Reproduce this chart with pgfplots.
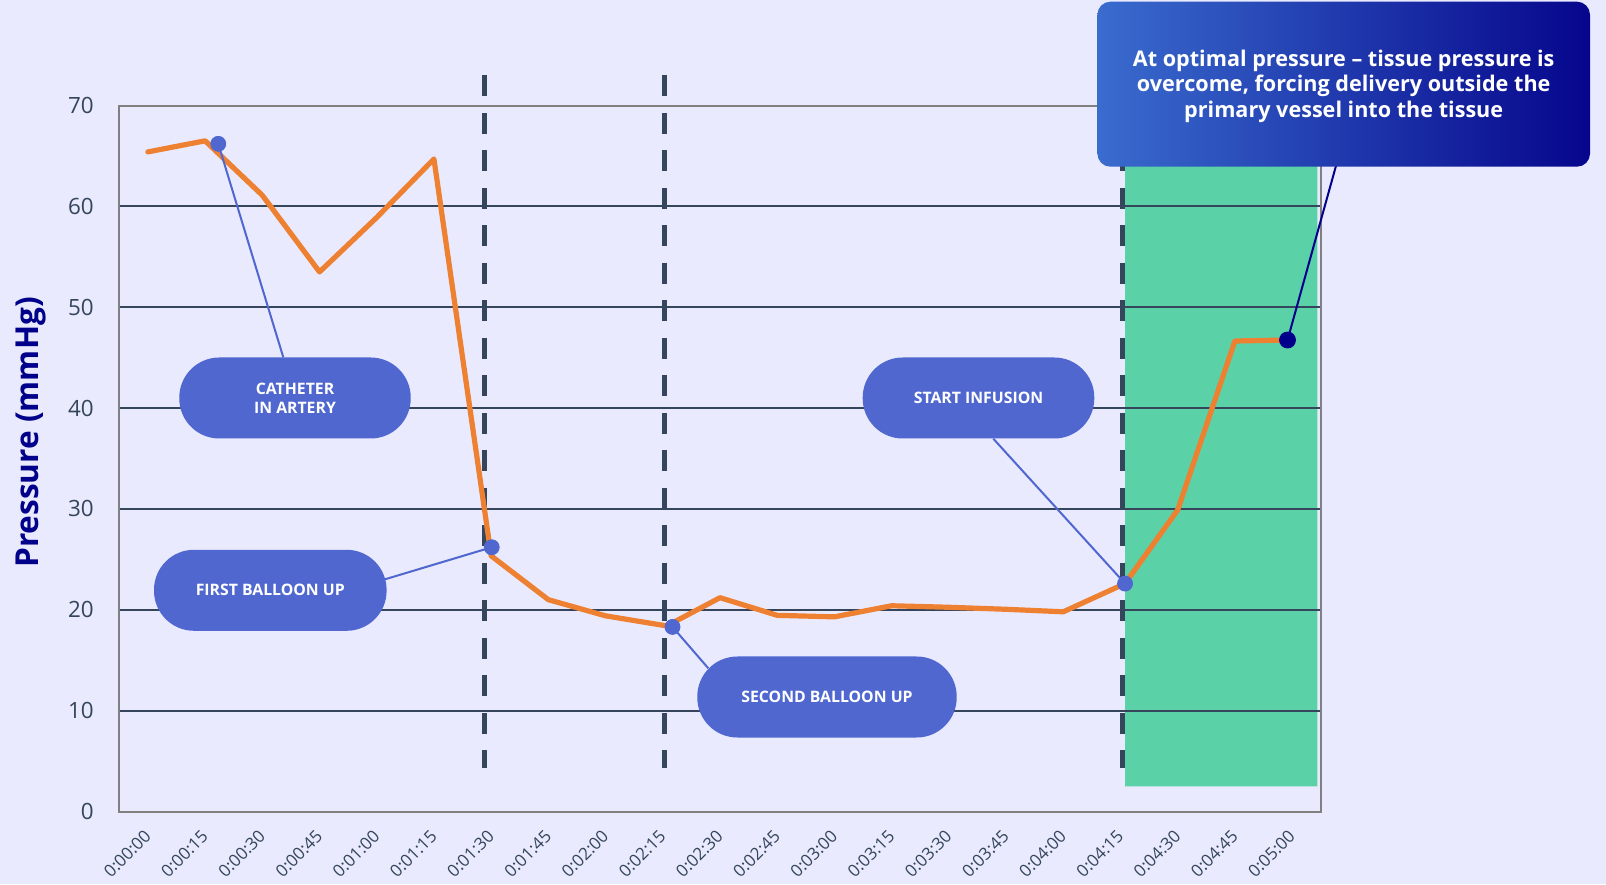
\documentclass[border=0pt]{standalone}
\usepackage{pgfplots}
\pgfplotsset{compat=1.18}
\usepackage{fontspec}
\setmainfont{Open Sans}
\definecolor{bg}{RGB}{233,234,253}
\definecolor{gridc}{RGB}{52,69,92}
\definecolor{axisgray}{RGB}{128,128,128}
\definecolor{tickc}{RGB}{52,69,92}
\definecolor{orangec}{RGB}{238,128,50}
\definecolor{pillc}{RGB}{79,103,207}
\definecolor{navyc}{RGB}{0,0,139}
\definecolor{greenc}{RGB}{91,209,167}
\definecolor{boxL}{RGB}{58,108,206}
\definecolor{boxR}{RGB}{6,6,140}
\pagecolor{bg}
\begin{document}
\begin{tikzpicture}
\begin{axis}[
  set layers=standard,
  at={(0,0)}, anchor=south west,
  scale only axis, width=600.7pt, height=353pt,
  xmin=-0.5, xmax=20.5, ymin=0, ymax=70,
  clip=false,
  axis line style={draw=axisgray, line width=1pt},
  ytick={0,10,...,70},
  xtick={0,...,20},
  xticklabels={0:00:00,0:00:15,0:00:30,0:00:45,0:01:00,0:01:15,0:01:30,0:01:45,0:02:00,0:02:15,0:02:30,0:02:45,0:03:00,0:03:15,0:03:30,0:03:45,0:04:00,0:04:15,0:04:30,0:04:45,0:05:00},
  major tick length=0pt,
  ymajorgrids, grid style={draw=gridc, line width=1pt},
  yticklabel style={font=\fontsize{11.2pt}{13pt}\selectfont, text=tickc, inner sep=0pt, xshift=-12.6pt},
  xticklabel style={font=\fontsize{8.5pt}{10pt}\selectfont, text=tickc, rotate=45, anchor=east, inner sep=0pt},
  xticklabel shift=11pt,
  /pgf/number format/assume math mode=true,
]
\addplot[on layer=axis background, fill=greenc, draw=none] coordinates {(17.08,2.5) (20.44,2.5) (20.44,70) (17.08,70) (17.08,2.5)};
\addplot[draw=gridc, line width=2.6pt, dash pattern=on 10.5pt off 8.25pt] coordinates {(5.89,73) (5.89,4.3)};
\addplot[draw=gridc, line width=2.6pt, dash pattern=on 10.5pt off 8.25pt] coordinates {(9.03,73) (9.03,4.3)};
\addplot[draw=gridc, line width=2.6pt, dash pattern=on 10.5pt off 8.25pt] coordinates {(17.04,73) (17.04,4.3)};
\addplot[draw=orangec, line width=2.6pt, line join=round, line cap=round] coordinates {
(0,65.4) (1,66.5) (2,61.1) (3,53.5) (4,58.9) (5,64.7) (6,25.35) (7,21.0) (8,19.4) (9.07,18.4) (10,21.2) (11,19.45) (12,19.3) (13,20.4) (14,20.25) (15,20.05) (16,19.8) (17.08,22.6) (18,29.9) (19,46.65) (19.92,46.75)};
\addplot[only marks, mark=*, mark size=3.75pt, color=pillc] coordinates {(1.23,66.2) (6.01,26.2) (9.17,18.3) (17.08,22.6)};
\addplot[only marks, mark=*, mark size=4pt, color=navyc] coordinates {(19.92,46.75)};
\coordinate (c1) at (axis cs:1.23,66.2);
\coordinate (c2) at (axis cs:6.01,26.2);
\coordinate (c3) at (axis cs:9.17,18.3);
\coordinate (c4) at (axis cs:17.08,22.6);
\coordinate (c5) at (axis cs:19.92,46.75);
\end{axis}
\draw[pillc, line width=1pt] (c1) -- (82pt,227.1pt);
\draw[pillc, line width=1pt] (c2) -- (132.85pt,116.1pt);
\draw[pillc, line width=1pt] (c3) -- (294.5pt,71.6pt);
\draw[pillc, line width=1pt] (c4) -- (437pt,186.4pt);
\draw[navyc, line width=1pt] (c5) -- (608.6pt,323.75pt);
\tikzset{pill/.style={fill=pillc, rounded corners=20pt, text=white, align=center, inner sep=0pt, minimum height=40.5pt, font=\fontsize{7.9pt}{9.5pt}\selectfont\bfseries}}
\node[pill, minimum width=115.7pt] at (87.85pt,206.75pt) {CATHETER\\IN ARTERY};
\node[pill, minimum width=116.3pt] at (75.5pt,110.6pt) {FIRST BALLOON UP};
\node[pill, minimum width=115.8pt] at (429.6pt,206.75pt) {START INFUSION};
\node[pill, minimum width=129.7pt] at (353.85pt,57.25pt) {SECOND BALLOON UP};
\node[rotate=90, text=navyc, font=\fontsize{15.8pt}{18pt}\selectfont\bfseries] at (-44.15pt,189.5pt) {Pressure (mmHg)};
\node[rounded corners=6.5pt, left color=boxL, right color=boxR, minimum width=246.3pt, minimum height=82.5pt, inner sep=0pt] at (612.2pt,363.65pt) {};
\node[inner sep=0pt, text=white, align=center, font=\fontsize{10.8pt}{12.9pt}\selectfont\bfseries] at (612.2pt,362.6pt) {At optimal pressure – tissue pressure is\\overcome, forcing delivery outside the\\primary vessel into the tissue};
\path (-59.65pt,-36.25pt) rectangle (743.35pt,405.75pt);
\end{tikzpicture}
\end{document}
